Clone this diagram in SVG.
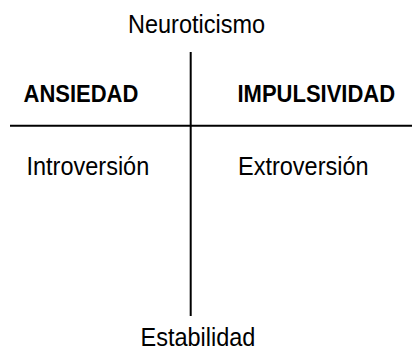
<svg xmlns="http://www.w3.org/2000/svg" width="412" height="351" viewBox="0 0 412 351">
<style>
.t{font-family:"Liberation Sans",Arial,sans-serif;font-size:23.5px;fill:#000}
.b{font-family:"Liberation Sans",Arial,sans-serif;font-size:22px;font-weight:bold;fill:#000}
.ax{stroke:#000;stroke-width:2;fill:none}
</style>
<rect width="412" height="351" fill="#fff"/>
<g id="axes">
<line class="ax" x1="190.7" y1="52" x2="190.7" y2="316"/>
<line class="ax" x1="10" y1="125.7" x2="412" y2="125.7"/>
</g>
<g id="neuroticismo"><text class="t" transform="translate(128,33) scale(1,1.07)">Neuroticismo</text></g>
<g id="ansiedad"><text class="b" transform="translate(23.5,101.5) scale(1,1.07)">ANSIEDAD</text></g>
<g id="impulsividad"><text class="b" transform="translate(237.5,101.5) scale(1,1.07)">IMPULSIVIDAD</text></g>
<g id="introversion"><text class="t" transform="translate(26.5,175) scale(1,1.07)">Introversión</text></g>
<g id="extroversion"><text class="t" transform="translate(238,175) scale(1,1.07)">Extroversión</text></g>
<g id="estabilidad"><text class="t" transform="translate(140.5,345.5) scale(1,1.07)">Estabilidad</text></g>
</svg>
